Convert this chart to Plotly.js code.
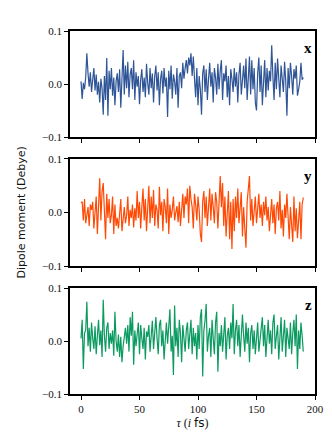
<!DOCTYPE html>
<html>
<head>
<meta charset="utf-8">
<script src="https://cdn.plot.ly/plotly-3.0.1.min.js"></script>
<style>
  body { margin: 0; background: #fff; }
  #chart { width: 332px; height: 443px; }
</style>
</head>
<body>
<div id="chart"></div>
<script>
// dipole moment components, in units of 1e-3 Debye, one value per fs (0..190)
var dipoleX = [
  5, -28, 2, -10, 12, 58, 20, -5, 22, -15,
  8, 30, -12, 18, -20, 4, -35, 10, -8, -58,
  15, -30, 49, -60, 25, -10, 30, -22, 12, -40,
  5, 20, -15, 28, -45, 10, 64, -20, 35, -8,
  42, -25, 18, 30, -10, 45, -30, 22, -5, 15,
  -38, 8, 28, -15, 12, -25, 38, 2, -20, 30,
  -8, 20, -35, 15, 35, -12, 22, -40, 10, 25,
  -18, 30, -5, 12, -62, 25, -10, 35, -28, 18,
  5, -20, 30, -45, 15, 22, -8, 40, 10, 30,
  45, 20, 50, 35, 58, 15, 52, 10, -25, 30,
  -40, 15, -10, -58, 20, 35, -15, 28, -30, 10,
  40, -5, 22, -35, 30, 12, -20, 38, -10, 25,
  45, -30, 20, 5, 35, -25, 15, -40, 28, 10,
  -15, 30, -5, 22, -35, 18, 40, -20, 10, 35,
  -8, 48, -30, 15, 52, -20, 45, -10, 30, -35,
  -50, 20, 50, -15, 35, -40, 10, 45, -25, 30,
  -12, 25, 5, 73, 15, -30, 40, -10, 48, 20,
  -25, 35, 10, -15, 42, 5, -60, 30, -8, 40,
  15, -20, 28, 10, 35, -22, -10, 5, 40, 8,
  12
];
var dipoleY = [
  18, 20, -15, 25, -20, -5, 10, -25, 15, 5,
  20, -30, 8, 30, -40, 10, 64, -15, 40, 55,
  10, -50, 35, -10, 25, -20, -5, 30, -40, 15,
  -25, -10, -30, 5, 25, -35, -15, 10, -20, -5,
  30, -25, 5, -10, 15, -28, 8, -15, 40, -10,
  20, -30, 10, 45, -15, 25, -35, 10, 50, -20,
  30, -10, 42, -25, 15, 5, -30, 48, -5, 20,
  -35, 25, 10, -20, 45, -40, 15, -10, 5, 30,
  -15, 0, 12, -18, 20, -25, 8, 35, -10, 30,
  15, 45, -20, 50, 25, 10, -30, 35, 15, -15,
  30, 5, -40, -55, 20, 40, -10, 30, -25, 15,
  45, -15, 35, 10, -20, 38, 20, -30, 25, 68,
  10, 55, -25, 30, -45, 15, 40, -50, 20, -68,
  25, -35, 30, -10, 45, -20, 15, 38, -45, 10,
  -30, -66, 20, 40, 68, -15, 25, -25, 5, 30,
  -20, 10, 35, -10, 15, -25, 20, -5, 30, -15,
  10, -35, 5, 25, -20, 15, -40, 8, 20, -15,
  40, -30, 5, -45, 15, -10, 35, -25, -50, 10,
  -20, -55, 30, -35, 8, -48, -15, 20, -50, 15,
  28
];
var dipoleZ = [
  5, 40, -53, 15, 20, 74, -10, 25, -20, 35,
  5, -15, 28, -25, 10, 40, -8, 20, -30, 78,
  10, -20, 25, 35, -15, 15, -5, 20, -28, 55,
  0, -20, 12, -30, 8, -40, -10, 15, 25, -5,
  30, -20, 45, 10, 55, -45, 20, -10, 15, 35,
  -25, 30, 5, -15, 25, -35, 18, 8, 30, -20,
  10, 38, -15, 25, 45, 5, -25, 30, 40, -10,
  20, -35, 15, 35, -5, 28, 60, -20, 10, -64,
  67, -10, 25, -30, 40, 15, -40, 30, 5, -20,
  20, 35, -15, 10, 40, -25, 25, -10, 15, -35,
  30, -15, 45, 60, -67, 20, 38, 70, -20, 10,
  25, -30, 40, 5, -25, 35, 55, -58, 15, -10,
  30, -20, 20, 45, -35, 10, 25, -15, 35, 5,
  70, -25, 20, 40, -10, 30, -30, 15, 50, 10,
  -20, 35, -5, 25, -40, 15, 30, -15, 20, -25,
  10, 35, -20, 5, 25, 45, -10, 30, -30, 15,
  40, -5, 20, -25, 35, 50, -15, 10, 30, -35,
  20, 45, -20, 10, 40, -30, 25, 5, -15, 35,
  -25, 15, 40, -10, 50, -53, 20, -15, 35, 10,
  -20
];
var panelLabels = ["x", "y", "z"];
var lineColors = ["#2f5597", "#ff4a05", "#0b9a5f"];
var xTicks = [0, 50, 100, 150, 200];
var yTicks = [-0.1, 0.0, 0.1];
var yTickText = ["\u22120.1", "0.0", "0.1"];

var tau = dipoleX.map(function (v, i) { return i; });
var series = [dipoleX, dipoleY, dipoleZ];

var serif = "Liberation Serif, DejaVu Serif, serif";
var data = [];
for (var k = 0; k < 3; k++) {
  data.push({
    x: tau,
    y: series[k].map(function (v) { return v / 1000; }),
    xaxis: k === 0 ? "x" : "x" + (k + 1),
    yaxis: k === 0 ? "y" : "y" + (k + 1),
    type: "scatter",
    mode: "lines",
    line: { color: lineColors[k], width: 1.2 },
    hoverinfo: "none"
  });
}

// panel domains, top to bottom
var domains = [[0.708, 1.0], [0.3526, 0.6474], [0.0, 0.292]];

function xAxis(k) {
  return {
    domain: [0, 1],
    range: [-9.4, 200],
    tickvals: xTicks,
    showticklabels: k === 2,
    ticks: "outside", ticklen: 4, tickwidth: 1, tickcolor: "#000",
    showline: true, linecolor: "#000", linewidth: 1.8, mirror: true,
    showgrid: false, zeroline: false,
    anchor: k === 0 ? "y" : "y" + (k + 1),
    tickfont: { family: serif, size: 11, color: "#111" }
  };
}
function yAxis(k) {
  return {
    domain: domains[k],
    range: [-0.1, 0.1],
    tickvals: yTicks,
    ticktext: yTickText,
    ticks: "outside", ticklen: 4, tickwidth: 1, tickcolor: "#000",
    showline: true, linecolor: "#000", linewidth: 1.8, mirror: true,
    showgrid: false, zeroline: false,
    anchor: k === 0 ? "x" : "x" + (k + 1),
    tickfont: { family: serif, size: 11, color: "#111" }
  };
}

var layout = {
  width: 332, height: 443,
  margin: { l: 70, r: 17, t: 31, b: 49 },
  paper_bgcolor: "#fff", plot_bgcolor: "#fff",
  showlegend: false,
  xaxis: xAxis(0), xaxis2: xAxis(1), xaxis3: xAxis(2),
  yaxis: yAxis(0), yaxis2: yAxis(1), yaxis3: yAxis(2),
  annotations: []
};
layout.xaxis3.title = {
  text: "<i>τ</i> (<i>i</i> <span style=\"font-family:DejaVu Sans\">fs</span>)",
  font: { family: serif, size: 12, color: "#111" },
  standoff: 4
};

for (var k = 0; k < 3; k++) {
  layout.annotations.push({
    text: "<b>" + panelLabels[k] + "</b>",
    xref: "x" + (k === 0 ? "" : k + 1) + " domain",
    yref: "y" + (k === 0 ? "" : k + 1) + " domain",
    x: 0.995, y: 0.93, xanchor: "right", yanchor: "top",
    showarrow: false,
    font: { family: serif, size: 15, color: "#000" }
  });
}
layout.annotations.push({
  text: "Dipole moment (Debye)",
  xref: "paper", yref: "paper",
  x: -0.2, y: 0.5, xanchor: "center", yanchor: "middle",
  textangle: -90, showarrow: false,
  font: { family: "DejaVu Sans, sans-serif", size: 11, color: "#111" }
});

Plotly.newPlot("chart", data, layout, { displayModeBar: false, staticPlot: true });
</script>
</body>
</html>
